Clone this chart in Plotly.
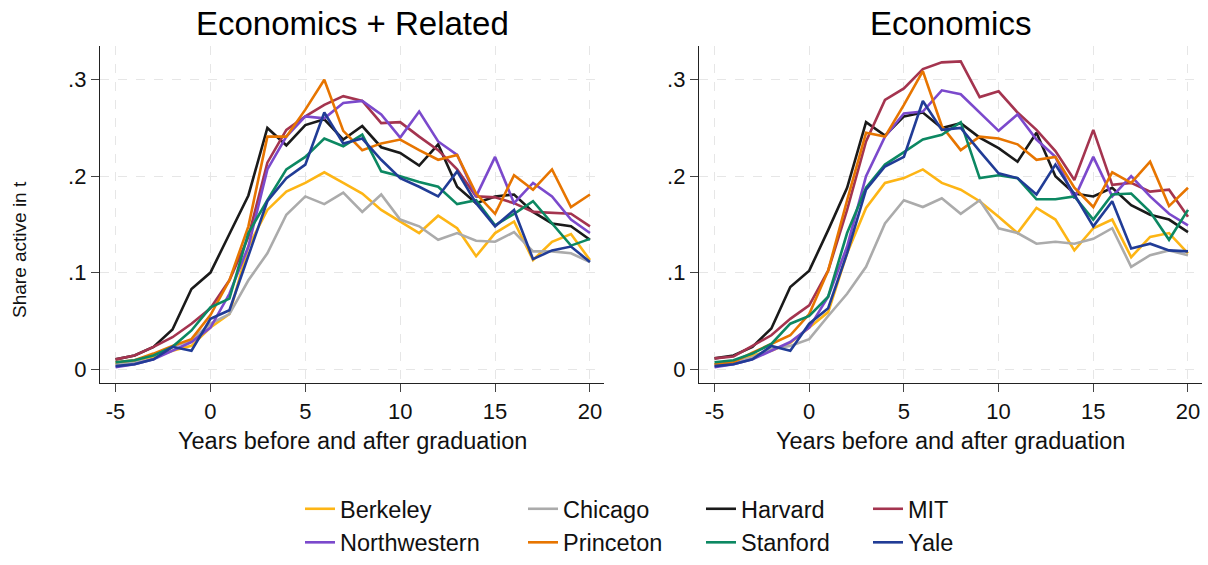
import plotly.graph_objects as go
from plotly.subplots import make_subplots

years = list(range(-5, 21))
schools = ["Berkeley", "Chicago", "Harvard", "MIT",
           "Northwestern", "Princeton", "Stanford", "Yale"]
colors = {
    "Berkeley": "#FDB515",
    "Chicago": "#ABABAB",
    "Harvard": "#1A1A1A",
    "MIT": "#A4344F",
    "Northwestern": "#7B49CC",
    "Princeton": "#E77500",
    "Stanford": "#0C8862",
    "Yale": "#213C96",
}

# Economics + Related (left panel)
rel_berkeley = [.005, .007, .012, .019, .024, .043, .057, .127, .165, .184, .193, .204, .193,
                .182, .165, .153, .141, .159, .146, .117, .141, .153, .113, .132, .140, .113]
rel_chicago = [.005, .007, .010, .023, .030, .047, .057, .092, .120, .160, .179, .171, .183,
               .163, .181, .155, .148, .134, .141, .133, .132, .142, .122, .122, .120, .111]
rel_harvard = [.010, .014, .023, .041, .083, .100, .140, .180, .250, .232, .253, .259, .238,
               .252, .230, .224, .211, .233, .189, .172, .179, .181, .163, .151, .148, .134]
rel_mit = [.010, .014, .023, .033, .047, .063, .092, .137, .214, .248, .262, .274, .283,
           .278, .255, .256, .241, .227, .207, .179, .178, .172, .163, .162, .161, .148]
rel_northwestern = [.002, .005, .010, .019, .028, .043, .078, .127, .207, .241, .262, .260, .276,
                    .278, .264, .240, .267, .236, .222, .179, .220, .172, .193, .179, .155, .141]
rel_princeton = [.007, .009, .016, .024, .031, .056, .092, .148, .241, .241, .269, .300, .247,
                 .227, .234, .238, .227, .217, .222, .182, .161, .201, .186, .207, .168, .181]
rel_stanford = [.007, .009, .014, .023, .040, .064, .073, .141, .175, .207, .220, .239, .231,
                .243, .205, .200, .194, .189, .171, .175, .149, .161, .174, .151, .128, .135]
rel_yale = [.003, .005, .010, .023, .019, .052, .061, .118, .174, .198, .212, .266, .234,
            .239, .217, .198, .189, .179, .205, .172, .148, .165, .114, .123, .127, .111]

# Economics (right panel)
eco_berkeley = [.005, .007, .014, .019, .027, .043, .059, .120, .167, .193, .198, .207, .193,
                .186, .174, .158, .141, .167, .155, .123, .146, .155, .116, .137, .141, .120]
eco_chicago = [.005, .007, .012, .021, .024, .031, .055, .078, .106, .151, .175, .168, .177,
               .161, .175, .146, .141, .130, .132, .130, .135, .146, .106, .118, .123, .118]
eco_harvard = [.011, .014, .023, .042, .085, .102, .144, .188, .256, .242, .262, .266, .250,
               .255, .240, .229, .215, .245, .200, .182, .179, .188, .170, .160, .155, .142]
eco_mit = [.011, .013, .024, .035, .052, .066, .102, .165, .236, .279, .291, .311, .318,
           .319, .282, .288, .266, .248, .226, .196, .248, .191, .193, .184, .186, .158]
eco_northwestern = [.002, .005, .010, .019, .028, .043, .075, .127, .200, .241, .265, .267, .289,
                    .285, .266, .247, .264, .238, .220, .177, .220, .179, .200, .179, .161, .149]
eco_princeton = [.005, .007, .017, .026, .035, .057, .102, .175, .245, .241, .274, .309, .252,
                 .227, .241, .239, .233, .217, .220, .188, .168, .204, .193, .215, .169, .188]
eco_stanford = [.007, .009, .016, .026, .047, .055, .075, .141, .188, .212, .225, .238, .243,
                .256, .198, .201, .198, .176, .176, .179, .155, .181, .182, .163, .134, .165]
eco_yale = [.003, .005, .010, .024, .019, .047, .063, .120, .186, .210, .220, .278, .248,
            .250, .226, .203, .198, .181, .212, .181, .148, .174, .125, .130, .123, .122]

related = dict(zip(schools, [rel_berkeley, rel_chicago, rel_harvard, rel_mit,
                             rel_northwestern, rel_princeton, rel_stanford, rel_yale]))
econ = dict(zip(schools, [eco_berkeley, eco_chicago, eco_harvard, eco_mit,
                          eco_northwestern, eco_princeton, eco_stanford, eco_yale]))

# one small legend per column, like the Stata 4-column key
legend_of = {"Berkeley": "legend", "Northwestern": "legend",
             "Chicago": "legend2", "Princeton": "legend2",
             "Harvard": "legend3", "Stanford": "legend3",
             "MIT": "legend4", "Yale": "legend4"}

W, H = 1208, 565


def px(x):
    return x / W


def py(y):
    return 1 - y / H


fig = make_subplots(rows=1, cols=2)

for col, data in [(1, related), (2, econ)]:
    for s in schools:
        fig.add_trace(go.Scatter(
            x=years, y=data[s], mode="lines", name=s,
            line=dict(color=colors[s], width=2.6),
            legendgroup=s, showlegend=(col == 1),
            legend=legend_of[s],
        ), row=1, col=col)

font = "Liberation Sans, Arial, sans-serif"
axis_common = dict(
    showline=True, linecolor="#222", linewidth=1.3,
    ticks="outside", ticklen=8, tickcolor="#444", tickwidth=1.3,
    showgrid=True, gridcolor="#e6e6e6", gridwidth=1.4, griddash="dash",
    zeroline=False, tickfont=dict(size=22, color="#111"),
)
for c in (1, 2):
    fig.update_xaxes(range=[-5.82, 20.74], tickvals=[-5, 0, 5, 10, 15, 20],
                     ticktext=["-5", "0", "5", "10", "15", "20"],
                     row=1, col=c, **axis_common)
    fig.update_yaxes(range=[-0.0145, 0.335], tickvals=[0, .1, .2, .3],
                     ticktext=["0", ".1", ".2", ".3"], row=1, col=c, **axis_common)

title_font = dict(size=33, color="#000")
label_font = dict(size=23.5, color="#111")
fig.update_layout(
    xaxis=dict(domain=[px(100), px(604)]),
    xaxis2=dict(domain=[px(699), px(1202)]),
    yaxis=dict(domain=[py(383), py(46)]),
    yaxis2=dict(domain=[py(383), py(46)]),
    width=W, height=H,
    margin=dict(l=0, r=0, t=0, b=0),
    paper_bgcolor="white", plot_bgcolor="white",
    font=dict(family=font, color="#111"),
    annotations=[
        dict(text="Economics + Related", x=px(352), y=py(23), showarrow=False,
             font=title_font),
        dict(text="Economics", x=px(950), y=py(23), showarrow=False,
             font=title_font),
        dict(text="Years before and after graduation", x=px(352), y=py(441),
             showarrow=False, font=label_font),
        dict(text="Years before and after graduation", x=px(950), y=py(441),
             showarrow=False, font=label_font),
        dict(text="Share active in t", x=px(19), y=py(250), textangle=-90,
             showarrow=False, font=dict(size=19, color="#111")),
    ],
)
for a in fig.layout.annotations:
    a.update(xref="paper", yref="paper", xanchor="center", yanchor="middle")

# keys sit on the bottom edge so they never push the plot margins
legend_style = dict(orientation="v", xanchor="left", yanchor="bottom", y=0,
                    font=dict(size=23.5, color="#111"), bgcolor="rgba(0,0,0,0)",
                    tracegroupgap=0, itemwidth=30)
fig.update_layout(
    legend=dict(x=px(300), **legend_style),
    legend2=dict(x=px(523), **legend_style),
    legend3=dict(x=px(701), **legend_style),
    legend4=dict(x=px(868), **legend_style),
)

# drop the default 8px body margin so the figure fills the window exactly
fig.write_html("out.html", config={"displayModeBar": False},
               post_script="document.body.style.margin = '0';")
